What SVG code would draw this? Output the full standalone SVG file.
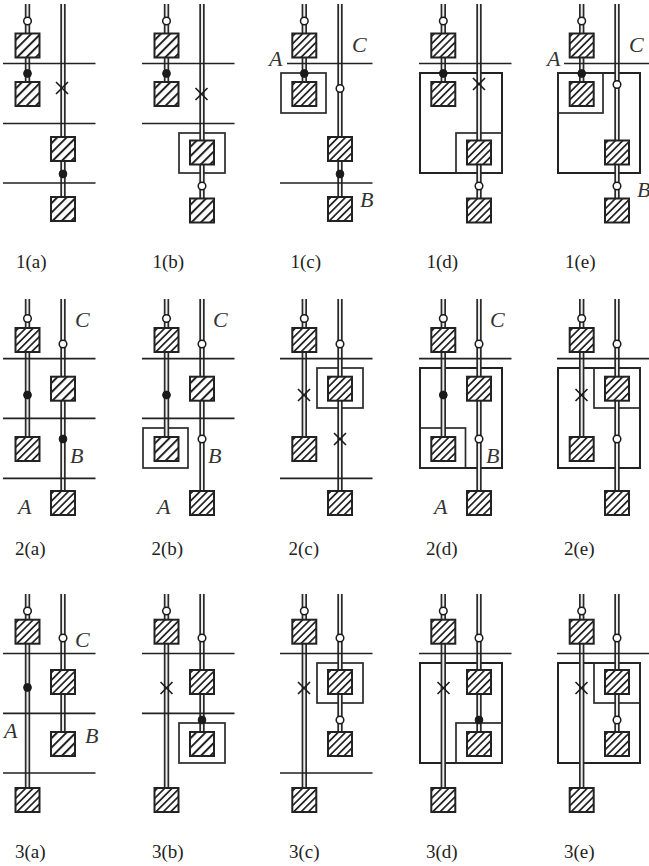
<svg xmlns="http://www.w3.org/2000/svg" xmlns:xlink="http://www.w3.org/1999/xlink" width="649" height="866" viewBox="0 0 649 866">
<style>
.o{stroke:#2a2a2a;stroke-width:5.4;fill:none}
.i{stroke:#ececec;stroke-width:2;fill:none}
.h{stroke:#222;stroke-width:1.7;fill:none}
.r{stroke:#222;stroke-width:2;fill:#fff}
.r2{stroke:#2a2a2a;stroke-width:1.7;fill:none}
.w{fill:#fff;stroke:#1a1a1a;stroke-width:1.5}
.b{fill:#1a1a1a;stroke:#1a1a1a;stroke-width:1}
.x{stroke:#1a1a1a;stroke-width:1.6;fill:none}
.t{font-family:"Liberation Serif","Times New Roman",serif;font-size:19px;fill:#222}
.l{font-family:"Liberation Serif","Times New Roman",serif;font-size:22px;font-style:italic;fill:#333}
</style>
<defs>
<pattern id="d" width="5.2" height="5.2" patternUnits="userSpaceOnUse" patternTransform="rotate(-45)">
<rect width="5.2" height="5.2" fill="#fff"/><rect width="5.2" height="1.7" fill="#222"/>
</pattern>
<pattern id="s" width="6.6" height="6.6" patternUnits="userSpaceOnUse" patternTransform="rotate(-45)">
<rect width="6.6" height="6.6" fill="#fff"/><rect width="6.6" height="2" fill="#222"/>
</pattern>
<g id="bd"><rect x="-12" y="-12" width="24" height="24" fill="url(#d)" stroke="#222" stroke-width="2"/></g>
<g id="bs"><rect x="-12" y="-12" width="24" height="24" fill="url(#s)" stroke="#222" stroke-width="2"/></g>
<g id="X"><path class="x" d="M-6,-6L6,6M-6,6L6,-6"/></g>
</defs>
<rect width="649" height="866" fill="#fff"/>

<g id="frames">
<rect class="r2" x="179" y="133" width="46" height="40"/>
<rect class="r2" x="281" y="73" width="45" height="40"/>
<rect class="r" x="420" y="73" width="82" height="100"/><rect class="r2" x="456" y="133" width="46" height="40"/>
<rect class="r" x="558" y="73" width="82" height="100"/><rect class="r2" x="558" y="73" width="45" height="40"/>
<rect class="r2" x="143" y="428" width="45" height="40"/>
<rect class="r2" x="317" y="368" width="46" height="40"/>
<rect class="r" x="420" y="368" width="82" height="100"/><rect class="r2" x="420" y="428" width="45.500" height="40"/>
<rect class="r" x="558" y="368" width="82" height="100"/><rect class="r2" x="594" y="368" width="46" height="40"/>
<rect class="r2" x="179" y="723" width="46" height="40"/>
<rect class="r2" x="317" y="663" width="46" height="40"/>
<rect class="r" x="420" y="663" width="82" height="100"/><rect class="r2" x="456" y="723" width="46" height="40"/>
<rect class="r" x="558" y="663" width="82" height="100"/><rect class="r2" x="594" y="663" width="46" height="40"/>
</g>

<g id="connectors">
<g class="o">
<path d="M27.500,4V94M63,4V209M166.500,4V94M202,4V210M304.300,4V94M340,4V209M443.300,4V94M479,4V210M581.700,4V94M617,4V210"/>
<path d="M27.500,299V449M63,299V503M166.500,299V449M202,299V503M304.300,299V449M340,299V503M443.300,299V449M479,299V503M581.700,299V449M617,299V503"/>
<path d="M27.500,594V800M63,594V744M166.500,594V800M202,594V744M304.300,594V800M340,594V744M443.300,594V800M479,594V744M581.700,594V800M617,594V744"/>
</g>
<g class="i">
<path d="M27.500,4V94M63,4V209M166.500,4V94M202,4V210M304.300,4V94M340,4V209M443.300,4V94M479,4V210M581.700,4V94M617,4V210"/>
<path d="M27.500,299V449M63,299V503M166.500,299V449M202,299V503M304.300,299V449M340,299V503M443.300,299V449M479,299V503M581.700,299V449M617,299V503"/>
<path d="M27.500,594V800M63,594V744M166.500,594V800M202,594V744M304.300,594V800M340,594V744M443.300,594V800M479,594V744M581.700,594V800M617,594V744"/>
</g>
<g class="h">
<path d="M3,63.500H95.500M3,123.500H95.500M3,183H95.500"/>
<path d="M142,63.500H234.500M142,123.500H234.500"/>
<path d="M287,63.500H372.500M280,183H372.500"/>
<path d="M419,63.500H511.500"/>
<path d="M564,63.500H649"/>
<path d="M3,358.700H95.500M3,418.300H95.500M3,478.300H95.500"/>
<path d="M142,358.700H234.500M142,418.300H234.500"/>
<path d="M280,358.700H372.500M280,478.300H372.500"/>
<path d="M419,358.700H511.500"/>
<path d="M557,358.700H649"/>
<path d="M3,653.500H95.500M3,713.300H95.500M3,773H95.500"/>
<path d="M142,653.500H234.500M142,713.300H234.500"/>
<path d="M280,653.500H372.500M280,773H372.500"/>
<path d="M419,653.500H511.500"/>
<path d="M557,653.500H649"/>
</g>
</g>

<g id="node-1a">
<use xlink:href="#bs" transform="translate(27.500,45.500)"/><use xlink:href="#bs" transform="translate(27.500,94)"/><use xlink:href="#bs" transform="translate(63,149)"/><use xlink:href="#bs" transform="translate(63,209)"/>
<circle class="w" cx="27.500" cy="21" r="3.800"/><circle class="b" cx="27.500" cy="73.500" r="3.900"/><circle class="b" cx="63" cy="174" r="3.900"/>
<use xlink:href="#X" transform="translate(62,88)"/>
<text class="t" x="16" y="268">1(a)</text>
</g>
<g id="node-1b">
<use xlink:href="#bs" transform="translate(166.500,45.500)"/><use xlink:href="#bs" transform="translate(166.500,94)"/><use xlink:href="#bs" transform="translate(202,152.500)"/><use xlink:href="#bs" transform="translate(202,210.500)"/>
<circle class="w" cx="166.500" cy="21" r="3.800"/><circle class="b" cx="166.500" cy="73.500" r="3.900"/><circle class="w" cx="202" cy="186" r="3.800"/>
<use xlink:href="#X" transform="translate(201.500,94)"/>
<text class="t" x="152.500" y="268">1(b)</text>
</g>
<g id="node-1c">
<use xlink:href="#bd" transform="translate(304.300,45.500)"/><use xlink:href="#bd" transform="translate(304.300,94)"/><use xlink:href="#bd" transform="translate(340,149)"/><use xlink:href="#bd" transform="translate(340,209)"/>
<circle class="w" cx="304.300" cy="21" r="3.800"/><circle class="b" cx="304.300" cy="73.500" r="3.900"/><circle class="w" cx="340" cy="88.500" r="3.800"/><circle class="b" cx="340" cy="174" r="3.900"/>
<text class="l" x="352" y="52">C</text><text class="l" x="269" y="66">A</text><text class="l" x="360" y="207">B</text>
<text class="t" x="290.500" y="268">1(c)</text>
</g>
<g id="node-1d">
<use xlink:href="#bd" transform="translate(443.300,45.500)"/><use xlink:href="#bd" transform="translate(443.300,94)"/><use xlink:href="#bd" transform="translate(479,152.500)"/><use xlink:href="#bd" transform="translate(479,210.500)"/>
<circle class="w" cx="443.300" cy="21" r="3.800"/><circle class="b" cx="443.300" cy="73.500" r="3.900"/><circle class="w" cx="479" cy="186" r="3.800"/>
<use xlink:href="#X" transform="translate(479,84)"/>
<text class="t" x="426.500" y="268">1(d)</text>
</g>
<g id="node-1e">
<use xlink:href="#bd" transform="translate(581.700,45.500)"/><use xlink:href="#bd" transform="translate(581.700,94)"/><use xlink:href="#bd" transform="translate(617,152.500)"/><use xlink:href="#bd" transform="translate(617,210.500)"/>
<circle class="w" cx="581.700" cy="21" r="3.800"/><circle class="b" cx="581.700" cy="73.500" r="3.900"/><circle class="w" cx="617" cy="84.500" r="3.800"/><circle class="w" cx="617" cy="186" r="3.800"/>
<text class="l" x="629" y="52">C</text><text class="l" x="547" y="66">A</text><text class="l" x="637" y="197">B</text>
<text class="t" x="565" y="268">1(e)</text>
</g>

<g id="node-2a">
<use xlink:href="#bd" transform="translate(27.500,340)"/><use xlink:href="#bd" transform="translate(27.500,449)"/><use xlink:href="#bs" transform="translate(63,388.700)"/><use xlink:href="#bd" transform="translate(63,503)"/>
<circle class="w" cx="27.500" cy="318.500" r="3.800"/><circle class="w" cx="63" cy="344" r="3.800"/><circle class="b" cx="27.500" cy="395" r="3.900"/><circle class="b" cx="63" cy="439" r="3.900"/>
<text class="l" x="75" y="327">C</text><text class="l" x="70" y="463">B</text><text class="l" x="18" y="514">A</text>
<text class="t" x="15" y="555">2(a)</text>
</g>
<g id="node-2b">
<use xlink:href="#bd" transform="translate(166.500,340)"/><use xlink:href="#bs" transform="translate(166.500,449)"/><use xlink:href="#bs" transform="translate(202,388.700)"/><use xlink:href="#bd" transform="translate(202,503)"/>
<circle class="w" cx="166.500" cy="318.500" r="3.800"/><circle class="w" cx="202" cy="344" r="3.800"/><circle class="b" cx="166.500" cy="395" r="3.900"/><circle class="w" cx="202" cy="439" r="3.800"/>
<text class="l" x="213" y="327">C</text><text class="l" x="208" y="463">B</text><text class="l" x="157" y="514">A</text>
<text class="t" x="151.500" y="555">2(b)</text>
</g>
<g id="node-2c">
<use xlink:href="#bd" transform="translate(304.300,340)"/><use xlink:href="#bd" transform="translate(304.300,449)"/><use xlink:href="#bd" transform="translate(340,388.700)"/><use xlink:href="#bd" transform="translate(340,503)"/>
<circle class="w" cx="304.300" cy="318.500" r="3.800"/><circle class="w" cx="340" cy="344" r="3.800"/>
<use xlink:href="#X" transform="translate(304,395)"/><use xlink:href="#X" transform="translate(340,439)"/>
<text class="t" x="288.500" y="555">2(c)</text>
</g>
<g id="node-2d">
<use xlink:href="#bd" transform="translate(443.300,340)"/><use xlink:href="#bd" transform="translate(443.300,449)"/><use xlink:href="#bd" transform="translate(479,388.700)"/><use xlink:href="#bd" transform="translate(479,503)"/>
<circle class="w" cx="443.300" cy="318.500" r="3.800"/><circle class="w" cx="479" cy="344" r="3.800"/><circle class="b" cx="443.300" cy="395" r="3.900"/><circle class="w" cx="479" cy="439" r="3.800"/>
<text class="l" x="490" y="327">C</text><text class="l" x="486" y="463">B</text><text class="l" x="434" y="514">A</text>
<text class="t" x="426" y="555">2(d)</text>
</g>
<g id="node-2e">
<use xlink:href="#bd" transform="translate(581.700,340)"/><use xlink:href="#bd" transform="translate(581.700,449)"/><use xlink:href="#bd" transform="translate(617,388.700)"/><use xlink:href="#bd" transform="translate(617,503)"/>
<circle class="w" cx="581.700" cy="318.500" r="3.800"/><circle class="w" cx="617" cy="344" r="3.800"/><circle class="w" cx="617" cy="439" r="3.800"/>
<use xlink:href="#X" transform="translate(581.500,395)"/>
<text class="t" x="564" y="555">2(e)</text>
</g>

<g id="node-3a">
<use xlink:href="#bd" transform="translate(27.500,631.700)"/><use xlink:href="#bd" transform="translate(27.500,800)"/><use xlink:href="#bd" transform="translate(63,682)"/><use xlink:href="#bs" transform="translate(63,744)"/>
<circle class="w" cx="27.500" cy="611" r="3.800"/><circle class="w" cx="63" cy="638" r="3.800"/><circle class="b" cx="27.500" cy="687.500" r="3.900"/>
<text class="l" x="75" y="647">C</text><text class="l" x="4" y="738">A</text><text class="l" x="85" y="743">B</text>
<text class="t" x="15" y="858">3(a)</text>
</g>
<g id="node-3b">
<use xlink:href="#bd" transform="translate(166.500,631.700)"/><use xlink:href="#bd" transform="translate(166.500,800)"/><use xlink:href="#bd" transform="translate(202,682)"/><use xlink:href="#bs" transform="translate(202,744)"/>
<circle class="w" cx="166.500" cy="611" r="3.800"/><circle class="w" cx="202" cy="638" r="3.800"/><circle class="b" cx="202" cy="720" r="3.900"/>
<use xlink:href="#X" transform="translate(166.500,688)"/>
<text class="t" x="152" y="858">3(b)</text>
</g>
<g id="node-3c">
<use xlink:href="#bd" transform="translate(304.300,631.700)"/><use xlink:href="#bd" transform="translate(304.300,800)"/><use xlink:href="#bd" transform="translate(340,682)"/><use xlink:href="#bd" transform="translate(340,744)"/>
<circle class="w" cx="304.300" cy="611" r="3.800"/><circle class="w" cx="340" cy="638" r="3.800"/><circle class="w" cx="340" cy="720" r="3.800"/>
<use xlink:href="#X" transform="translate(304,688)"/>
<text class="t" x="289" y="858">3(c)</text>
</g>
<g id="node-3d">
<use xlink:href="#bd" transform="translate(443.300,631.700)"/><use xlink:href="#bd" transform="translate(443.300,800)"/><use xlink:href="#bd" transform="translate(479,682)"/><use xlink:href="#bd" transform="translate(479,744)"/>
<circle class="w" cx="443.300" cy="611" r="3.800"/><circle class="w" cx="479" cy="638" r="3.800"/><circle class="b" cx="479" cy="720" r="3.900"/>
<use xlink:href="#X" transform="translate(443.500,688)"/>
<text class="t" x="426" y="858">3(d)</text>
</g>
<g id="node-3e">
<use xlink:href="#bd" transform="translate(581.700,631.700)"/><use xlink:href="#bd" transform="translate(581.700,800)"/><use xlink:href="#bd" transform="translate(617,682)"/><use xlink:href="#bd" transform="translate(617,744)"/>
<circle class="w" cx="581.700" cy="611" r="3.800"/><circle class="w" cx="617" cy="638" r="3.800"/><circle class="w" cx="617" cy="720" r="3.800"/>
<use xlink:href="#X" transform="translate(581.500,688)"/>
<text class="t" x="564" y="858">3(e)</text>
</g>
</svg>
